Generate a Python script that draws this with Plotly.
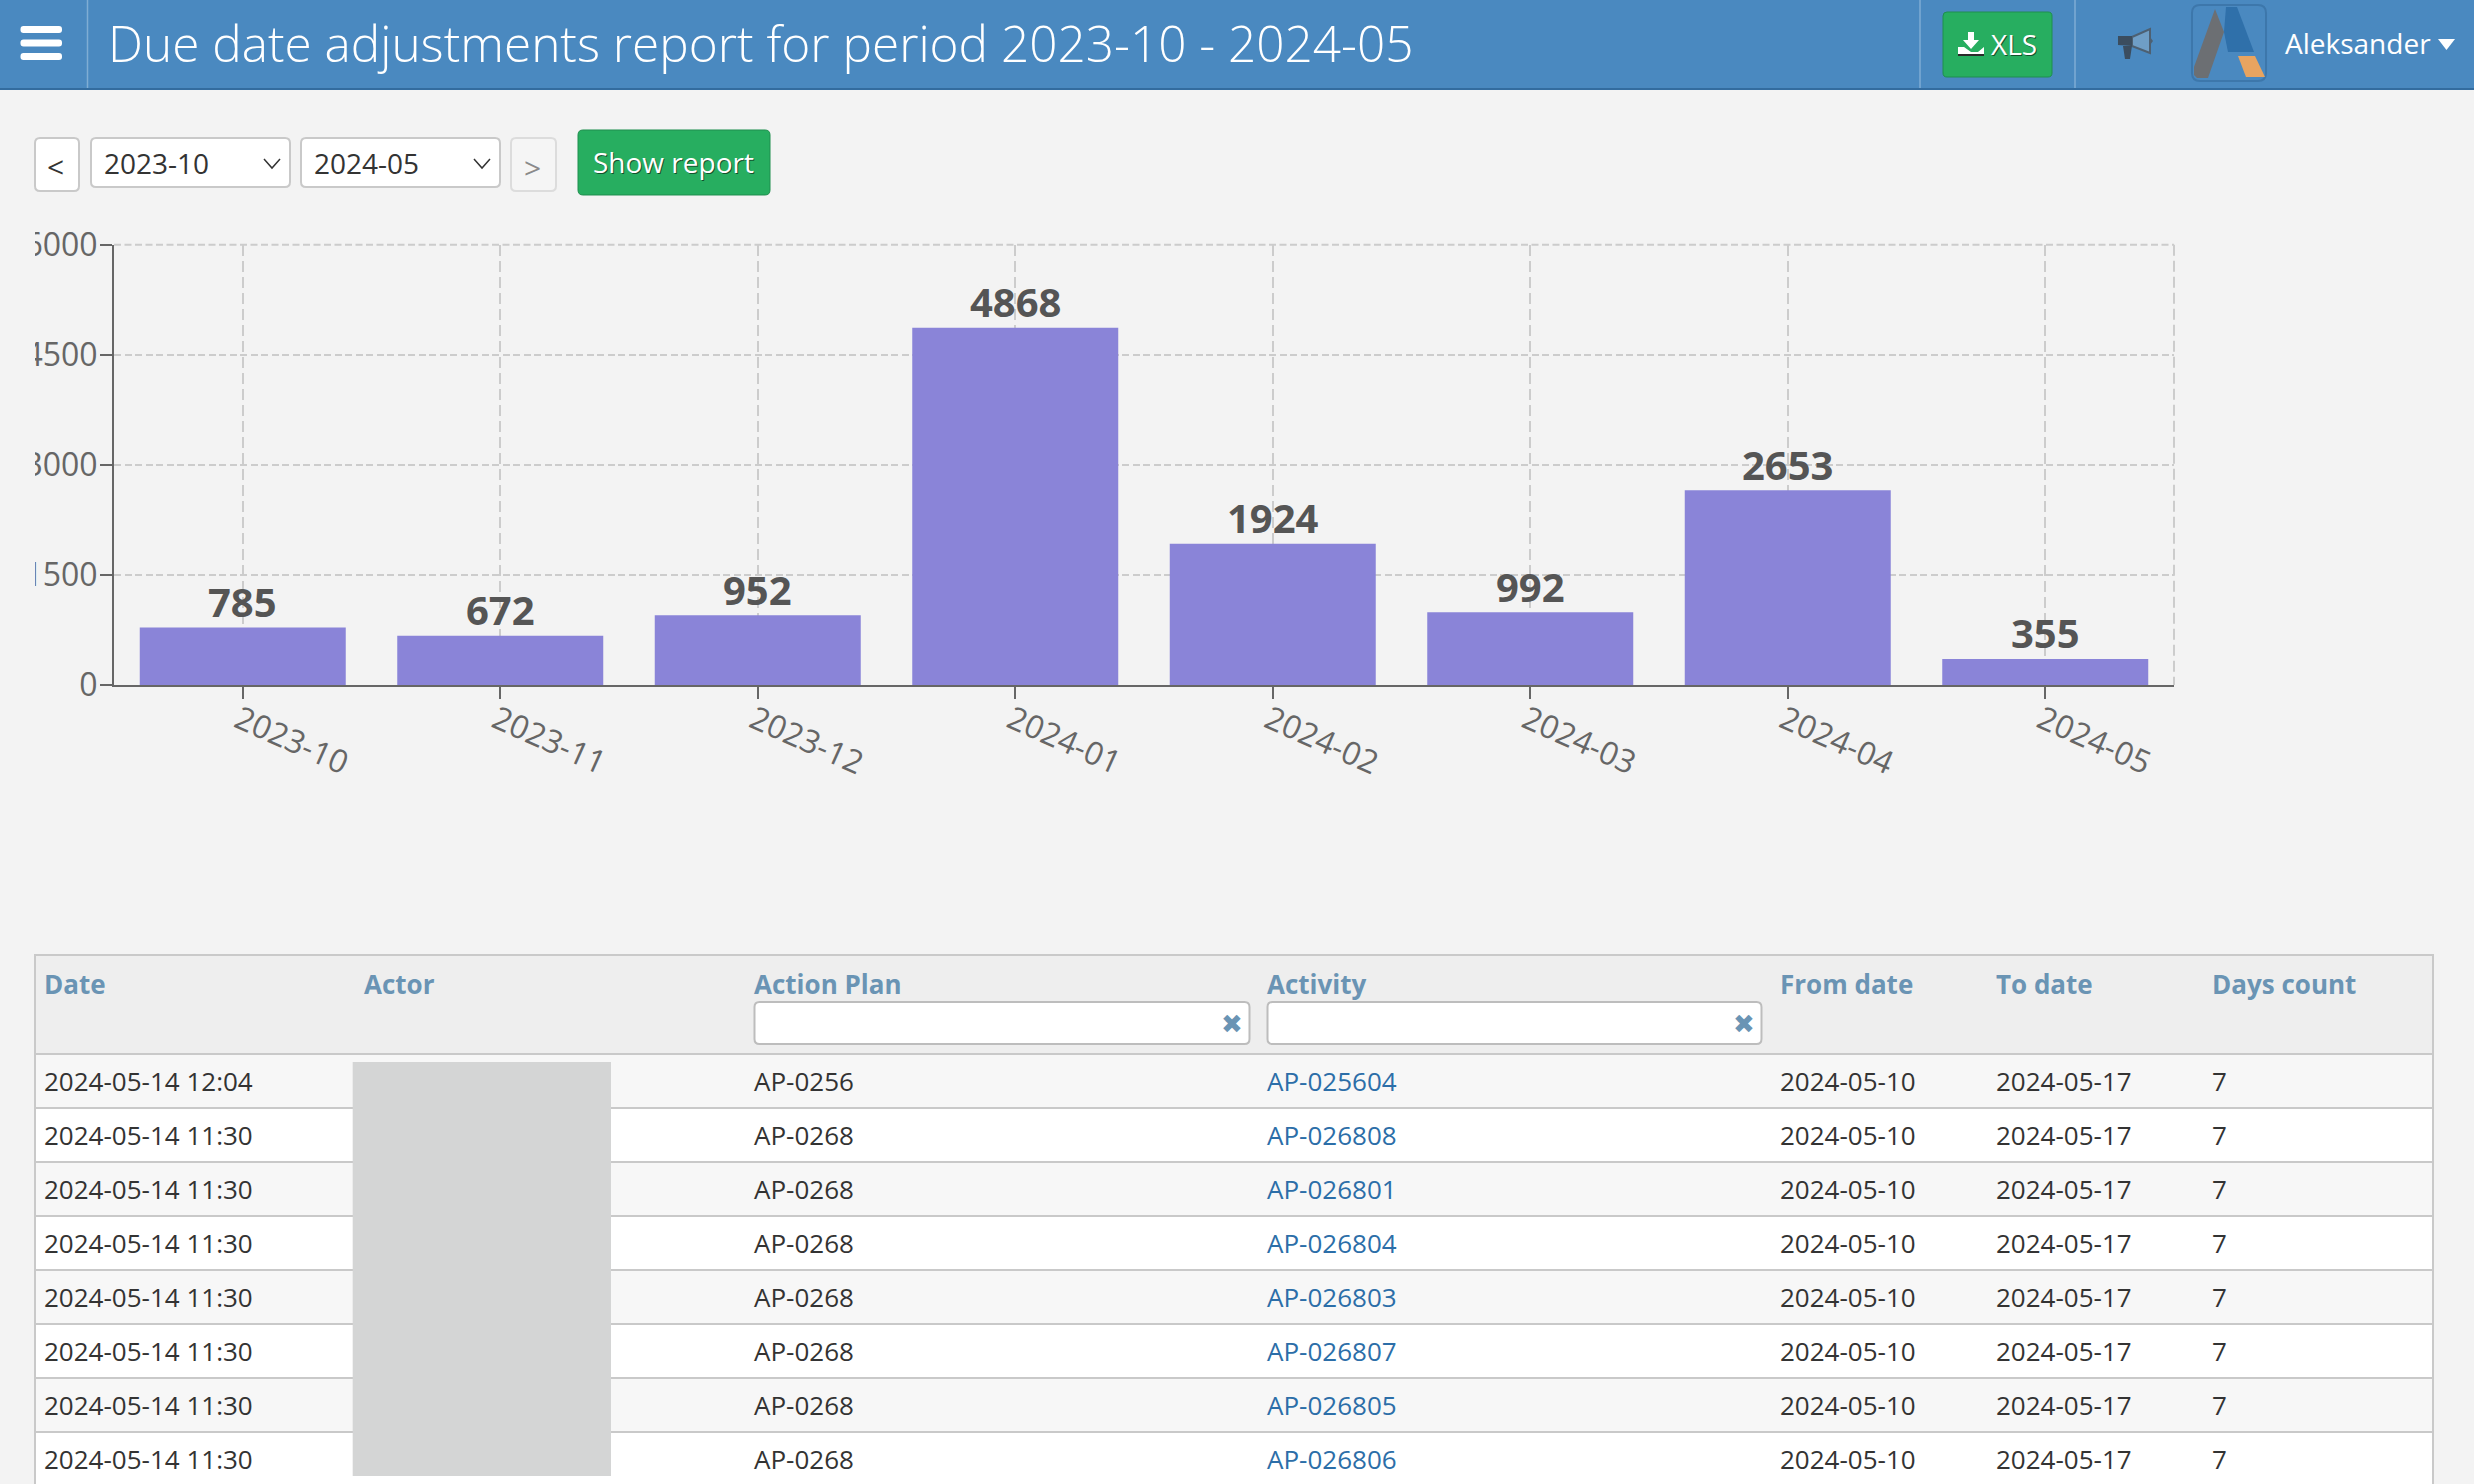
import plotly.graph_objects as go

W = 2474
H = 1484

# chart data
months = ["2023-10", "2023-11", "2023-12", "2024-01", "2024-02", "2024-03", "2024-04", "2024-05"]
adjustments = [785, 672, 952, 4868, 1924, 992, 2653, 355]
y_ticks = [0, 1500, 3000, 4500, 6000]

# table data
columns = ["Date", "Actor", "Action Plan", "Activity", "From date", "To date", "Days count"]
dates = ["2024-05-14 12:04"] + ["2024-05-14 11:30"] * 7
plans = ["AP-0256"] + ["AP-0268"] * 7
activities = ["AP-025604", "AP-026808", "AP-026801", "AP-026804", "AP-026803", "AP-026807", "AP-026805", "AP-026806"]
from_dates = ["2024-05-10"] * 8
to_dates = ["2024-05-17"] * 8
days = ["7"] * 8

FONT = "Open Sans"
BG = "#f3f3f3"
BLUE = "#4a89c0"
GREEN = "#27ae60"
LINE = "#c9c9c9"
HEAD_TEXT = "#6a94b4"
LINK = "#2c6ea8"
DARK = "#333333"
AXIS = "#666666"
GRID = "#cccccc"
SHADOW = "1px 1px 0 rgba(0,0,0,0.55)"


def px(x):
    return x / W


def py(y):
    return 1 - y / H


shapes = []
notes = []


def box(x0, y0, x1, y1, fill, line=None, lw=0, layer="below"):
    shapes.append(dict(type="rect", xref="paper", yref="paper", layer=layer,
                       x0=px(x0), x1=px(x1), y0=py(y1), y1=py(y0), fillcolor=fill,
                       line=dict(color=line or fill, width=lw)))


def poly(points, fill=None, line=None, lw=0, closed=True):
    # pixel points to a path in paper coords
    path = "M" + " L".join(f"{px(a):.5f},{py(b):.5f}" for a, b in points)
    if closed:
        path += " Z"
    shapes.append(dict(type="path", xref="paper", yref="paper", layer="below", path=path,
                       fillcolor=fill if fill else "rgba(0,0,0,0)",
                       line=dict(color=line or "rgba(0,0,0,0)", width=lw)))


def rounded(x0, y0, x1, y1, fill, line=None, lw=0, r=5):
    c = [px(x0), px(x1), py(y0), py(y1)]
    rx, ry = r / W, r / H
    path = (f"M{c[0]+rx:.5f},{c[2]:.5f} L{c[1]-rx:.5f},{c[2]:.5f} Q{c[1]:.5f},{c[2]:.5f} {c[1]:.5f},{c[2]-ry:.5f} "
            f"L{c[1]:.5f},{c[3]+ry:.5f} Q{c[1]:.5f},{c[3]:.5f} {c[1]-rx:.5f},{c[3]:.5f} "
            f"L{c[0]+rx:.5f},{c[3]:.5f} Q{c[0]:.5f},{c[3]:.5f} {c[0]:.5f},{c[3]+ry:.5f} "
            f"L{c[0]:.5f},{c[2]-ry:.5f} Q{c[0]:.5f},{c[2]:.5f} {c[0]+rx:.5f},{c[2]:.5f} Z")
    shapes.append(dict(type="path", xref="paper", yref="paper", layer="below", path=path,
                       fillcolor=fill, line=dict(color=line or fill, width=lw)))


def label(x, y, text, size=26, color=DARK, anchor="left", weight=400, family=FONT, shadow="none"):
    # annotation text sits a bit low and right of the given point
    notes.append(dict(xref="paper", yref="paper", x=px(x - 1), y=py(y - 1.5), text=text, showarrow=False,
                      xanchor=anchor, yanchor="middle", borderpad=0,
                      font=dict(family=family, size=size, color=color, weight=weight, shadow=shadow)))


# top bar
box(0, 0, W, 88, BLUE)
box(0, 88, W, 90, "#336c9f")
for sep in [87.5, 1920, 2075]:
    box(sep - 0.75, 0, sep + 0.75, 88, "#7fadd4")
for top in [26, 39.5, 53]:
    rounded(20.5, top, 62, top + 7, "#ffffff", r=3)
label(108, 44, "Due date adjustments report for period 2023-10 - 2024-05", size=49.5, color="#ffffff", weight=300)

rounded(1943, 12, 2052, 77, GREEN, line="#1f8f4e", lw=1, r=4)
poly([(1968, 32), (1974, 32), (1974, 40), (1979, 40), (1971, 49), (1963, 40), (1968, 40)], fill="#ffffff")
poly([(1958, 47), (1964, 47), (1971, 52), (1978, 52), (1984, 47), (1984, 54), (1958, 54)], fill="#ffffff")
box(1958, 54, 1984, 56, "#2a2a2a")
label(1991, 45, "XLS", size=28, color="#ffffff", shadow=SHADOW)

# megaphone
poly([(2132, 37), (2150, 29), (2150, 53), (2132, 46)], fill="#6f9ec6", line="#4d6072", lw=2)
poly([(2118, 36), (2132, 36), (2132, 46), (2118, 45)], fill="#3b4d5f")
poly([(2123, 46), (2132, 46), (2130, 59), (2125, 59)], fill="#3b4d5f")
poly([(2150, 37), (2153, 41), (2150, 45)], fill="#4d6072")

# logo
rounded(2192, 5, 2266, 81, BLUE, line="#3d77ab", lw=2, r=8)
poly([(2215, 9), (2224, 32), (2208, 78), (2197, 78), (2194, 75), (2194, 67)], fill="#6c6f73")
poly([(2226, 7), (2237, 7), (2254, 52), (2228, 52), (2224, 32)], fill="#2f70aa")
poly([(2238, 56), (2255, 56), (2265, 77), (2246, 77)], fill="#e8a460")

label(2285, 44, "Aleksander", size=28, color="#ffffff")
poly([(2438, 39), (2455, 39), (2446.5, 50)], fill="#ffffff")

# period controls
rounded(35, 138, 79, 191, "#ffffff", line=LINE, lw=2, r=5)
label(57, 167.5, "&lt;", size=30, color=DARK, anchor="center")
for x0, val in [(91, months[0]), (301, months[-1])]:
    rounded(x0, 138, x0 + 199, 187, "#ffffff", line=LINE, lw=2, r=5)
    label(x0 + 13, 164.5, val, size=28, color=DARK)
    poly([(x0 + 173, 159), (x0 + 181, 168), (x0 + 189, 159)], line=DARK, lw=1.5, closed=False)
rounded(511, 138, 556, 191, "#f5f5f5", line="#dcdcdc", lw=2, r=5)
label(533.5, 169.5, "&gt;", size=30, color="#8a8a8a", anchor="center")
rounded(578, 130, 770, 195, GREEN, line="#1f8f4e", lw=1, r=5)
label(674, 164, "Show report", size=28, color="#ffffff", anchor="center", shadow=SHADOW)

# table frame and header
box(35, 955, 2433, H + 4, "#ffffff", line=LINE, lw=2)
box(36, 956, 2432, 1053, "#eeeeee")
col_x = [44, 364, 754.5, 1267, 1780, 1995.5, 2212]
for x, name in zip(col_x, columns):
    label(x, 985.5, name, size=26, color=HEAD_TEXT, weight=700)
for x0, x1 in [(754.5, 1249.5), (1267.5, 1761.5)]:
    rounded(x0, 1002, x1, 1044, "#ffffff", line="#bdbdbd", lw=2, r=5)
    label(x1 - 17, 1025, "✖", size=26, color=HEAD_TEXT, anchor="center", family="DejaVu Sans")

# table rows
row_top = 1054
row_h = 54
for i in range(len(dates)):
    top = row_top + i * row_h
    box(36, top, 2432, top + row_h, "#f7f7f7" if i % 2 == 0 else "#ffffff")
    box(36, top - 1, 2432, top + 1, LINE)
    mid = top + 28
    label(col_x[0], mid, dates[i])
    label(col_x[2], mid, plans[i])
    label(col_x[3], mid, activities[i], color=LINK)
    label(col_x[4], mid, from_dates[i])
    label(col_x[5], mid, to_dates[i])
    label(col_x[6], mid, days[i])
box(352.7, 1062, 611, 1476, "#d4d5d5")

# the tick labels are cut off on the left in the original page
box(0, 225, 35, 710, BG, layer="above")

fig = go.Figure()
fig.add_trace(go.Bar(x=months, y=adjustments, width=0.8, marker=dict(color="#8a84d8", line=dict(width=0)),
                     cliponaxis=False, hoverinfo="x+y"))

# value labels over the bars
for m, v in zip(months, adjustments):
    notes.append(dict(xref="x", yref="y", x=m, y=v, text=str(v), showarrow=False, yanchor="middle", yshift=26,
                      font=dict(family=FONT, size=40, color="#555555", weight=700)))

# dashed top and right edges of the grid
shapes.append(dict(type="line", xref="x domain", yref="y domain", x0=1, x1=1, y0=1, y1=0, layer="below",
                   line=dict(color=GRID, width=2, dash="11px,5px")))
shapes.append(dict(type="line", xref="x domain", yref="y domain", x0=0, x1=1, y0=1, y1=1, layer="below",
                   line=dict(color=GRID, width=2, dash="7px,3.5px")))

fig.update_layout(
    width=W, height=H, autosize=False,
    margin=dict(l=0, r=0, t=0, b=0, autoexpand=False),
    paper_bgcolor=BG, plot_bgcolor=BG,
    showlegend=False,
    shapes=shapes, annotations=notes,
    font=dict(family=FONT),
    xaxis=dict(domain=[px(114), px(2174)], type="category", range=[-0.5, 7.5], automargin=False,
               tickangle=24, ticklabelstandoff=-10, ticklabelshift=-4,
               showline=True, linecolor=AXIS, linewidth=2, ticks="outside", ticklen=12, tickwidth=2, tickcolor=AXIS,
               showgrid=True, gridcolor=GRID, gridwidth=2, griddash="11px,5px",
               tickfont=dict(family=FONT, size=32, color=AXIS)),
    yaxis=dict(domain=[py(685), py(244.7)], range=[0, 6000], tickvals=y_ticks, automargin=False,
               ticklabelstandoff=-4,
               showline=True, linecolor=AXIS, linewidth=2, ticks="outside", ticklen=12, tickwidth=2, tickcolor=AXIS,
               showgrid=True, gridcolor=GRID, gridwidth=2, griddash="7px,3.5px", zeroline=False,
               tickfont=dict(family=FONT, size=32, color=AXIS)),
)

fig.write_html("out.html", config={"displayModeBar": False},
               post_script="document.body.style.margin='0';document.documentElement.style.overflow='hidden';")
